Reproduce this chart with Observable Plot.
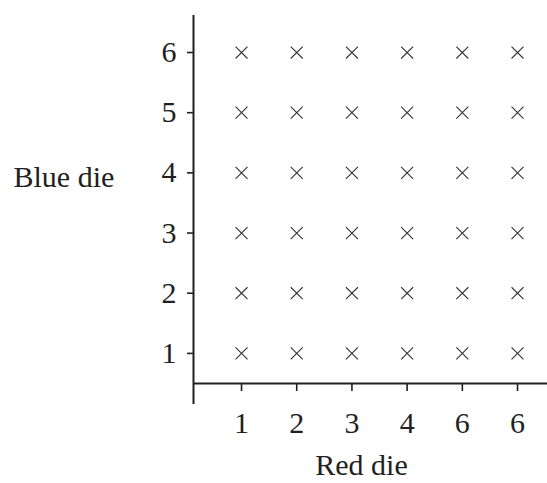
<!DOCTYPE html>
<html>
<head>
<meta charset="utf-8">
<script src="https://cdn.jsdelivr.net/npm/d3@7"></script>
<script src="https://cdn.jsdelivr.net/npm/@observablehq/plot@0.6"></script>
<style>
  html, body { margin: 0; padding: 0; background: #fff; overflow: hidden; }
  #chart svg { display: block; }
</style>
</head>
<body>
<div id="chart"></div>
<script>
const redValues = [1, 2, 3, 4, 5, 6];
const redTickLabels = ["1", "2", "3", "4", "6", "6"];
const blueValues = [1, 2, 3, 4, 5, 6];
const blueTickLabels = ["1", "2", "3", "4", "5", "6"];
const xTitle = "Red die";
const yTitle = "Blue die";

const cells = redValues.flatMap(r => blueValues.map(b => ({red: r, blue: b})));

const ink = "#231f20";
const font = "'Liberation Serif', 'Times New Roman', serif";
const xDomain = [0.13, 6.543];
const yDomain = [0.5, 6.615];

const chart = Plot.plot({
  width: 547,
  height: 483,
  marginLeft: 193,
  marginRight: 0,
  marginTop: 15,
  marginBottom: 100,
  style: {fontFamily: font, color: ink, background: "#fff"},
  x: {domain: xDomain},
  y: {domain: yDomain},
  marks: [
    Plot.ruleY([yDomain[0]], {stroke: ink, strokeWidth: 2}),
    Plot.ruleX([xDomain[0]], {stroke: ink, strokeWidth: 2, insetBottom: -21}),
    Plot.axisY(blueValues, {
      tickSize: 6, tickPadding: 11, fontSize: 30, stroke: ink, strokeWidth: 1.6,
      tickFormat: d => blueTickLabels[blueValues.indexOf(d)], label: null
    }),
    Plot.axisX(redValues, {
      tickSize: 8, tickPadding: 20, fontSize: 30, stroke: ink, strokeWidth: 1.6,
      tickFormat: d => redTickLabels[redValues.indexOf(d)], label: null
    }),
    Plot.dot(cells, {x: "red", y: "blue", symbol: "times", r: 5.5, stroke: "#333", strokeWidth: 1.1}),
    Plot.text([yTitle], {frameAnchor: "left", textAnchor: "start", lineAnchor: "middle", dx: -180, dy: -22.6, fontSize: 30, fill: ink}),
    Plot.text([xTitle], {frameAnchor: "bottom", textAnchor: "middle", lineAnchor: "middle", dx: -9, dy: 81.4, fontSize: 30, fill: ink})
  ]
});
document.getElementById("chart").appendChild(chart);
</script>
</body>
</html>
